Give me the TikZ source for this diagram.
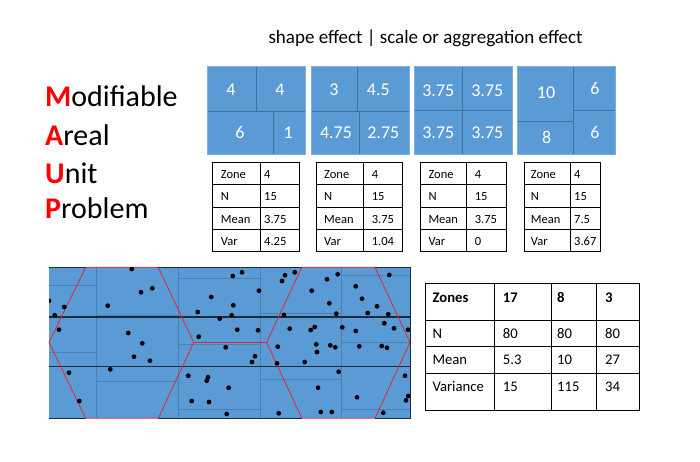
\documentclass[tikz,border=0pt]{standalone}
\usepackage{fontspec}
\setmainfont{Carlito}
\definecolor{blk}{HTML}{5B9BD5}
\definecolor{blkline}{HTML}{41719C}
\definecolor{blkout}{HTML}{7EAEDD}
\definecolor{zoneline}{HTML}{4A80B8}
\definecolor{bandline}{HTML}{1E2B3A}
\definecolor{hexred}{HTML}{E3232C}
\begin{document}
\begin{tikzpicture}[x=1pt,y=-1pt,
  cellbox/.style={fill=blk, draw=blkline, line width=0.6pt},
  outbox/.style={draw=blkout, line width=0.6pt},
  num/.style={text=white, font=\fontsize{18}{20}\selectfont, inner sep=0pt, anchor=base},
  tb/.style={font=\fontsize{12.5}{14}\selectfont, inner sep=0pt, anchor=base west},
  bt/.style={font=\fontsize{14.7}{17}\selectfont, inner sep=0pt, anchor=base west},
  maup/.style={font=\fontsize{30}{32}\selectfont, inner sep=0pt, anchor=base west},
  tline/.style={line width=0.8pt, draw=black},
  zl/.style={draw=zoneline, line width=0.6pt},
  bl/.style={draw=bandline, line width=1.4pt},
  hx/.style={draw=hexred, line width=0.8pt}
]
\useasboundingbox (0,0) rectangle (700,462);

% title
\node[font=\fontsize{19}{21}\selectfont, inner sep=0pt, anchor=base] (title) at (425.5,43.3) {shape effect | scale or aggregation effect};

% MAUP
\node[maup] (m1) at (45,106.7) {\textcolor{red}{\textbf{M}}odifiable};
\node[maup] (m2) at (45,146) {\textcolor{red}{\textbf{A}}real};
\node[maup] (m3) at (45,183.3) {\textcolor{red}{\textbf{U}}nit};
\node[maup] (m4) at (45,218.3) {\textcolor{red}{\textbf{P}}roblem};

% block 1
\draw[cellbox] (207.3,66) rectangle (256,111);
\draw[cellbox] (256,66) rectangle (305,111);
\draw[cellbox] (207.3,111) rectangle (273,154);
\draw[cellbox] (273,111) rectangle (305,154);
\draw[outbox] (207.3,66) rectangle (305,154);
\node[num] (b1a) at (231,95.7) {4};
\node[num] (b1b) at (280,95.7) {4};
\node[num] (b1c) at (240,138.4) {6};
\node[num] (b1d) at (288.3,138.4) {1};
% block 2
\draw[cellbox] (311,66) rectangle (357.3,111);
\draw[cellbox] (357.3,66) rectangle (409,111);
\draw[cellbox] (311,111) rectangle (359.3,154);
\draw[cellbox] (359.3,111) rectangle (409,154);
\draw[outbox] (311,66) rectangle (409,154);
\node[num] (b2a) at (334,95.7) {3};
\node[num] (b2b) at (378.3,95.7) {4.5};
\node[num] (b2c) at (336,138.7) {4.75};
\node[num] (b2d) at (383.3,138.7) {2.75};
% block 3
\draw[cellbox] (414.7,66) rectangle (462.3,110.7);
\draw[cellbox] (462.3,66) rectangle (512,110.7);
\draw[cellbox] (414.7,110.7) rectangle (462.3,154);
\draw[cellbox] (462.3,110.7) rectangle (512,154);
\draw[outbox] (414.7,66) rectangle (512,154);
\node[num] (b3a) at (438.3,96.4) {3.75};
\node[num] (b3b) at (487.3,96.4) {3.75};
\node[num] (b3c) at (438.3,138.4) {3.75};
\node[num] (b3d) at (487.3,138.4) {3.75};
% block 4
\draw[cellbox] (517.3,66) rectangle (573.3,121.7);
\draw[cellbox] (517.3,121.7) rectangle (573.3,154);
\draw[cellbox] (573.3,66) rectangle (615,110.7);
\draw[cellbox] (573.3,110.7) rectangle (615,154);
\draw[outbox] (517.3,66) rectangle (615,154);
\node[num] (b4a) at (546,99) {10};
\node[num] (b4b) at (546.7,144) {8};
\node[num] (b4c) at (595,95) {6};
\node[num] (b4d) at (595,138.4) {6};

% small tables
\foreach \L/\D/\R/\tx/\vx/\n/\mn/\vr/\id in {212.7/260/299/220.7/264/4/3.75/4.25/t1,
    316.7/363.3/402.7/324/371.7/4/3.75/1.04/t2,
    420/466.7/506/428.3/474.7/4/3.75/0/t3,
    524/570.7/600.7/530.7/574/4/7.5/3.67/t4}{
  \draw[tline] (\L,162.5) rectangle (\R,251.7);
  \draw[tline] (\D,162.5) -- (\D,251.7);
  \foreach \yy in {184.8,207.1,229.4}{\draw[tline] (\L,\yy) -- (\R,\yy);}
  \node[tb] (\id z) at (\tx,178.6) {Zone};
  \node[tb] (\id n) at (\tx,200.9) {N};
  \node[tb] (\id m) at (\tx,223.2) {Mean};
  \node[tb] (\id v) at (\tx,245.5) {Var};
  \node[tb] (\id zv) at (\vx,178.6) {\n};
  \node[tb] (\id nv) at (\vx,200.9) {15};
  \node[tb] (\id mv) at (\vx,223.2) {\mn};
  \node[tb] (\id vv) at (\vx,245.5) {\vr};
}

% big table
\draw[tline] (425,283.3) rectangle (639,410);
\foreach \xx in {494,551.7,596.7}{\draw[tline] (\xx,283.3) -- (\xx,410);}
\foreach \yy in {320,346.7,373.3}{\draw[tline] (425,\yy) -- (639,\yy);}
\node[bt,font=\fontsize{14.7}{17}\selectfont\bfseries] (bz) at (432.3,302.4) {Zones};
\node[bt,font=\fontsize{14.7}{17}\selectfont\bfseries] (bz1) at (502.7,302.4) {17};
\node[bt,font=\fontsize{14.7}{17}\selectfont\bfseries] (bz2) at (557,302.4) {8};
\node[bt,font=\fontsize{14.7}{17}\selectfont\bfseries] (bz3) at (605,302.4) {3};
\node[bt] (bn) at (432.3,338) {N};
\node[bt] (bn1) at (502.7,338) {80};
\node[bt] (bn2) at (557,338) {80};
\node[bt] (bn3) at (605,338) {80};
\node[bt] (bm) at (432.3,364.7) {Mean};
\node[bt] (bm1) at (502.7,364.7) {5.3};
\node[bt] (bm2) at (557,364.7) {10};
\node[bt] (bm3) at (605,364.7) {27};
\node[bt] (bv) at (432.3,391.4) {Variance};
\node[bt] (bv1) at (502.7,391.4) {15};
\node[bt] (bv2) at (557,391.4) {115};
\node[bt] (bv3) at (605,391.4) {34};

% map
\fill[blk] (49,267.3) rectangle (410,418.3);
\foreach \xx in {96,178.3,260.3,341.7}{\draw[zl] (\xx,267.3) -- (\xx,418.3);}
\draw[zl] (49,285) -- (96,285);
\draw[zl] (49,352.3) -- (96,352.3);
\draw[zl] (96,315) -- (178.3,315);
\draw[zl] (96,381.3) -- (178.3,381.3);
\draw[zl] (178.3,278.3) -- (260.3,278.3);
\draw[zl] (178.3,344.3) -- (260.3,344.3);
\draw[zl] (178.3,409.3) -- (260.3,409.3);
\draw[zl] (260.3,313.7) -- (341.7,313.7);
\draw[zl] (260.3,379.7) -- (341.7,379.7);
\draw[zl] (341.7,275.5) -- (410,275.5);
\draw[zl] (341.7,342) -- (410,342);
\draw[zl] (341.7,409.3) -- (410,409.3);
\draw[bl] (49,317) -- (410,317);
\draw[bl] (49,366.7) -- (410,366.7);
\draw[hx] (85.7,267.3) -- (158.3,267.3) -- (193.7,342.3) -- (158.3,418.3) -- (85.7,418.3) -- (49,342.3) -- cycle;
\draw[hx] (301.7,267.3) -- (375,267.3) -- (410,342.3) -- (375,418.3) -- (301.7,418.3) -- (266.7,342.3) -- cycle;
\draw[hx] (193.7,342.3) -- (266.7,342.3);
\draw[draw=bandline, line width=1pt] (49,267.3) -- (85.7,267.3) (158.3,267.3) -- (301.7,267.3) (375,267.3) -- (410,267.3) -- (410,418.3) -- (375,418.3) (301.7,418.3) -- (158.3,418.3) (85.7,418.3) -- (49,418.3) -- cycle;
\begin{scope}
\clip (49,267.3) rectangle (410,418.3);
\foreach \px/\py in {131.7/269, 141/292.3, 152.3/288.3, 107.7/305.7, 49/300.7, 64.3/307, 54.7/315.3, 59/329.7,
  128.3/333, 142.3/343.3, 134/356.7, 150/360.7, 110.3/369.3, 69/372.7, 79.3/401,
  232.7/276, 242/272.3, 211.3/297, 259/290.7, 233.3/305.3, 197.7/312, 231.7/315.3, 219.7/318.7,
  198.7/336.7, 237.3/329.7, 258/330.3, 225.7/347.3, 255/356.3, 252/362, 188.3/375.7, 208/377.3,
  206.7/380.7, 228.7/387.7, 191.7/401, 209/402, 226.7/414,
  285/275.3, 294.7/272.3, 282/281, 327/279.3, 337.7/274.3, 389.3/275, 311.7/290.7, 355.7/286.3,
  362/298.7, 329.3/303.3, 377/306.3, 336.3/313.7, 367.7/313, 388.3/314.3, 284/315,
  289.7/328.7, 310.7/330, 314.7/327, 342.3/327.3, 355.7/331, 384.3/323.3, 394/328.3, 408/329.7,
  277.7/346.7, 316.3/344.3, 330.3/345.3, 335.3/347.3, 359.3/346.3, 381.7/346, 387/347.7, 317/352,
  277/363.3, 304.7/362, 338.7/371.7, 405/375.7, 318/387.7, 357/397.3, 408.3/396, 406/400.3,
  278.7/413.3, 320.7/412, 331.7/412, 383.3/412.7}{
  \fill[black] (\px,\py) circle (2.4);
}
\end{scope}
\end{tikzpicture}
\end{document}
